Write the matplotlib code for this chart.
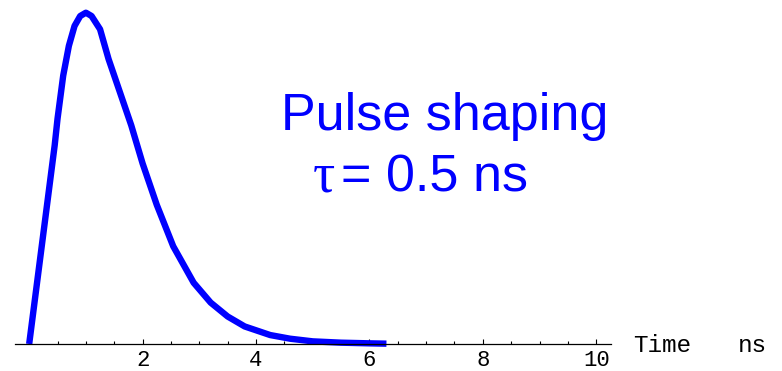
import matplotlib.pyplot as plt
from matplotlib.ticker import FixedLocator

# pulse shape (time in ns, height normalised to the peak)
t = [0, 0.45, 0.5, 0.6, 0.7, 0.8, 0.9, 1.0, 1.1, 1.25, 1.4, 1.6, 1.8, 2.0,
     2.25, 2.54, 2.9, 3.2, 3.5, 3.8, 4.25, 4.6, 5.0, 5.5, 6.0, 6.3]
v = [0, 0.60, 0.68, 0.81, 0.90, 0.96, 0.99, 1.0, 0.99, 0.95, 0.86, 0.76, 0.66, 0.545,
     0.42, 0.295, 0.185, 0.125, 0.083, 0.053, 0.027, 0.016, 0.008, 0.004, 0.002, 0.001]
major_ticks = [2, 4, 6, 8, 10]
minor_ticks = [0.5, 1, 1.5, 2.5, 3, 3.5, 4.5, 5, 5.5, 6.5, 7, 7.5, 8.5, 9, 9.5]

W, H = 782, 371
fig = plt.figure(figsize=(W / 100, H / 100), dpi=100)
ax = fig.add_axes([15 / W, 27 / H, 596 / W, 344 / H])

ax.plot(t, v, color="#0000ff", lw=4.6, solid_capstyle="butt", solid_joinstyle="round", clip_on=False)

ax.set_xlim(-0.25, 10.26)
ax.set_ylim(0, 344 / 331.3)

for s in ["left", "right", "top"]:
    ax.spines[s].set_visible(False)
ax.spines["bottom"].set_linewidth(0.9)
ax.set_yticks([])

ax.xaxis.set_major_locator(FixedLocator(major_ticks))
ax.xaxis.set_minor_locator(FixedLocator(minor_ticks))
ax.tick_params(axis="x", which="major", direction="in", length=3.5, width=0.8, pad=4,
               labelsize=16)
ax.tick_params(axis="x", which="minor", direction="in", length=2.2, width=0.8)
for lab in ax.get_xticklabels():
    lab.set_family("Liberation Mono")

# axis label, the two words placed apart like the original
fig.text(633 / W, (H - 352) / H, "Time", family="Liberation Mono", fontsize=17.5,
         va="baseline", ha="left")
fig.text(738 / W, (H - 352) / H, "ns", family="Liberation Mono", fontsize=17.5,
         va="baseline", ha="left")

fig.text(281 / W, (H - 130) / H, "Pulse shaping", family="Liberation Sans", fontsize=37.5,
         color="#0000ff", va="baseline", ha="left")
fig.text(313 / W, (H - 192) / H, "τ", family="Liberation Serif", fontsize=40,
         color="#0000ff", va="baseline", ha="left")
fig.text(341 / W, (H - 192) / H, "= 0.5 ns", family="Liberation Sans", fontsize=37.5,
         color="#0000ff", va="baseline", ha="left")

fig.savefig("out.png", dpi=100)
